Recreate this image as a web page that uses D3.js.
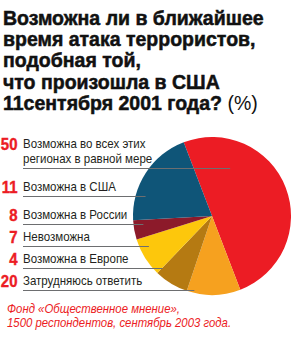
<!DOCTYPE html>
<html>
<head>
<meta charset="utf-8">
<script src="https://cdn.jsdelivr.net/npm/d3@7"></script>
<style>
  body { margin: 0; background: #fff; }
  svg { display: block; }
</style>
</head>
<body>
<div id="chart"></div>
<script>
// legend rows, top to bottom
var answers = [
  ["Возможна во всех этих", "регионах в равной мере"],
  ["Возможна в США"],
  ["Возможна в России"],
  ["Невозможна"],
  ["Возможна в Европе"],
  ["Затрудняюсь ответить"]
];
var percents = [50, 11, 8, 7, 4, 20];

// pie slices clockwise as printed, and which slice each leader points at
var sliceShares = [50, 11, 7, 8, 4, 20];
var sliceColors = ["#ec1c24", "#f6a11f", "#b57a12", "#fdc70c", "#8c1a2a", "#0f5578"];
var leaderTarget = [0, 5, 4, 3, 2, 1];

var titleLines = [
  "Возможна ли в ближайшее",
  "время атака террористов,",
  "подобная той,",
  "что произошла в США",
  "11сентября 2001 года?"
];
var sourceLines = [
  "Фонд «Общественное мнение»,",
  "1500 респондентов, сентябрь 2003 года."
];

var width = 291, height = 339;
var red = "#ec1c24";
var sans = "'Liberation Sans', Arial, sans-serif";

var svg = d3.select("#chart").append("svg")
  .attr("width", width)
  .attr("height", height);

// title
var title = svg.append("g")
  .attr("font-family", sans)
  .attr("font-weight", "bold")
  .attr("font-size", 19.5)
  .attr("fill", "#111")
  .attr("stroke", "#111")
  .attr("stroke-width", 0.5);
title.selectAll("text")
  .data(titleLines)
  .enter()
  .append("text")
  .attr("x", 3)
  .attr("y", (d, i) => 25 + i * 21.2)
  .text((d) => d);
title.select("text:last-child")
  .append("tspan")
  .attr("font-weight", "normal")
  .attr("stroke-width", 0)
  .text(" (%)");

// pie
var cx = 212, cy = 216, r = 79;
var pie = d3.pie()
  .sort(null)
  .startAngle(-21 * Math.PI / 180)
  .endAngle((360 - 21) * Math.PI / 180);
var arc = d3.arc().innerRadius(0).outerRadius(r);
var arcs = pie(sliceShares);

svg.append("g")
  .attr("transform", `translate(${cx},${cy})`)
  .selectAll("path")
  .data(arcs)
  .enter()
  .append("path")
  .attr("d", arc)
  .attr("fill", (d, i) => sliceColors[i]);

// legend rows: underline positions
var lineY = [];
var y0 = 168;
[0, 28, 28, 22, 22, 22].forEach((g) => {
  y0 += g;
  lineY.push(y0);
});

function leaderEnd(i) {
  var y = lineY[i] - cy;
  if (leaderTarget[i] === 0) return cx + r * 0.23;
  return cx - Math.sqrt(Math.max(0, r * r - y * y)) + 10;
}

var rows = svg.append("g")
  .selectAll("g")
  .data(answers)
  .enter()
  .append("g");

rows.append("line")
  .attr("x1", 23)
  .attr("x2", (d, i) => leaderEnd(i))
  .attr("y1", (d, i) => lineY[i] + 0.5)
  .attr("y2", (d, i) => lineY[i] + 0.5)
  .attr("stroke", "#6d6e70")
  .attr("stroke-width", 1);

rows.each(function (lines, i) {
  var g = d3.select(this);
  var base = lineY[i] - 5 - (lines.length - 1) * 15;
  lines.forEach((t, j) => {
    g.append("text")
      .attr("transform", `translate(23,${base + j * 15}) scale(0.9,1)`)
      .attr("font-family", sans)
      .attr("font-size", 12.8)
      .attr("fill", "#231f20")
      .text(t);
  });
  g.append("text")
    .attr("transform", `translate(17.5,${base + 2}) scale(0.88,1)`)
    .attr("text-anchor", "end")
    .attr("font-family", sans)
    .attr("font-weight", "bold")
    .attr("font-size", 17)
    .attr("fill", red)
    .attr("stroke", red)
    .attr("stroke-width", 0.4)
    .text(percents[i]);
});

// source
svg.append("g")
  .selectAll("text")
  .data(sourceLines)
  .enter()
  .append("text")
  .attr("transform", (d, i) => `translate(7,${313 + i * 14}) scale(0.95,1)`)
  .attr("font-family", sans)
  .attr("font-style", "italic")
  .attr("font-size", 12)
  .attr("fill", red)
  .text((d) => d);
</script>
</body>
</html>
